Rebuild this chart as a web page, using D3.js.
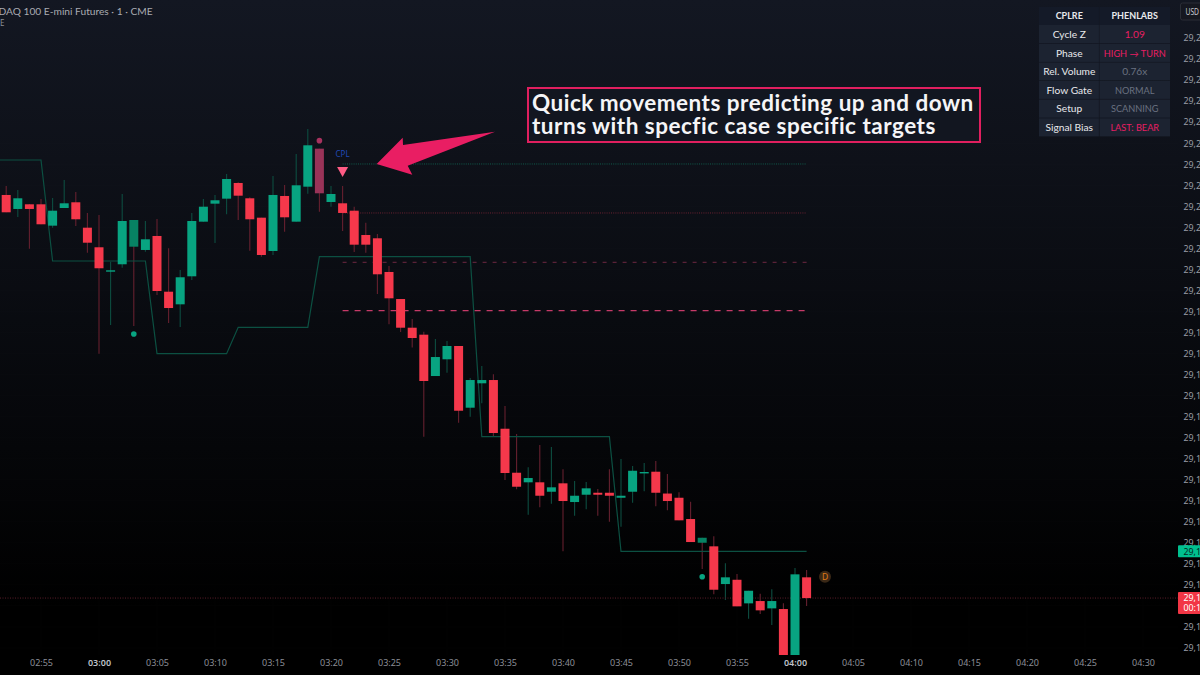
<!DOCTYPE html>
<html><head><meta charset="utf-8">
<script src="https://cdn.jsdelivr.net/npm/d3@7/dist/d3.min.js"></script>
<style>html,body{margin:0;padding:0;background:#000;overflow:hidden}svg{display:block}</style>
</head><body><svg id="c" width="1200" height="675"></svg>
<script>
// ---- data (minutes relative to 03:00) ----
const firstMinute=-8;
const opens=[29222.69,29219.36,29220.47,29220.47,29215.39,29219.59,29220.95,29214.91,29210.25,29204.45,29206.21,29210.39,29209.61,29212.94,29199.69,29196.69,29203.35,29216.34,29220.62,29221.81,29225.54,29221.90,29217.29,29209.37,29222.45,29216.34,29224.66,29233.70,29221.02,29220.71,29218.95,29213.17,29212.39,29204.38,29197.95,29191.13,29189.47,29179.64,29183.62,29186.78,29172.11,29177.91,29178.69,29167.11,29156.65,29154.37,29154.37,29152.13,29154.13,29149.68,29151.42,29151.89,29151.89,29150.70,29152.13,29156.58,29156.89,29151.70,29150.70,29145.64,29140.00,29139.15,29130.18,29131.20,29125.59,29126.14,29124.40,29124.24,29109.73,29131.78];
const highs=[29224.83,29223.87,29220.55,29221.73,29221.97,29226.25,29223.40,29218.41,29217.93,29206.82,29222.92,29216.74,29216.50,29216.98,29210.01,29204.85,29218.41,29221.73,29222.69,29227.68,29225.71,29222.14,29217.29,29227.20,29225.06,29232.44,29238.38,29233.70,29224.83,29224.83,29219.90,29216.10,29213.41,29205.80,29197.95,29193.20,29190.18,29188.44,29187.97,29186.78,29179.17,29182.02,29180.05,29172.51,29165.85,29157.93,29163.24,29162.76,29157.46,29154.68,29154.44,29152.77,29157.46,29159.91,29158.24,29158.96,29159.43,29156.34,29151.99,29149.75,29141.19,29141.53,29135.10,29132.56,29128.59,29127.88,29128.92,29125.59,29133.99,29133.51];
const lows=[29218.57,29217.45,29209.92,29215.72,29214.91,29219.59,29215.31,29208.97,29184.95,29191.77,29205.40,29191.53,29209.20,29198.91,29192.25,29191.30,29202.47,29216.34,29211.27,29218.10,29216.74,29209.44,29208.01,29208.42,29213.96,29216.34,29223.00,29218.71,29219.90,29214.13,29209.13,29208.97,29199.14,29191.94,29190.11,29186.42,29165.21,29179.64,29180.43,29168.54,29169.97,29173.15,29165.21,29154.91,29152.70,29146.66,29148.42,29149.28,29137.96,29146.42,29147.95,29146.42,29145.00,29143.81,29149.51,29152.23,29148.66,29147.73,29145.33,29140.17,29133.75,29127.73,29126.38,29124.88,29121.93,29123.05,29120.43,29108.50,29108.50,29124.95];
const closes=[29218.57,29221.90,29219.36,29215.72,29218.95,29220.71,29216.91,29211.34,29205.26,29204.78,29216.50,29216.74,29212.15,29199.86,29195.81,29203.12,29216.50,29219.90,29221.43,29226.49,29222.52,29216.91,29208.42,29222.69,29217.38,29224.99,29234.50,29223.09,29222.92,29218.41,29210.87,29210.87,29203.83,29198.12,29191.13,29188.68,29178.46,29184.16,29186.78,29171.39,29178.69,29178.69,29166.09,29156.58,29153.32,29155.39,29151.18,29153.18,29149.92,29151.18,29152.94,29151.42,29151.18,29151.18,29157.12,29156.82,29151.89,29149.92,29145.33,29140.17,29141.19,29128.83,29131.78,29124.88,29128.59,29123.93,29126.14,29109.73,29132.49,29126.85];
const darkBullMinutes=[3,52];
const fadedBearMinutes=[19];
const stepMinutes=[-9,-5,-4,4,5,11,12,18,19,32,33,44,45,61];
const stepPrices=[29231.01,29231.01,29206.99,29206.99,29184.95,29184.95,29191.23,29191.23,29208.01,29208.01,29165.21,29165.21,29137.96,29137.96];
const levelPrices=[29230.06,29218.41,29206.68,29195.17];
const levelStyles=["dotTeal","dotRed","dashDim","dashBright"];
const levelStart=21, levelEnd=61;
const lastPrice=29126.85, stepLast=29137.96;
const bullDotMinutes=[3,52], bullDotPrices=[29189.63,29131.92];
const bearDotMinutes=[19], bearDotPrices=[29235.60];
const signalMinute=21, signalPrice=29228.16;
const priceTicks=d3.range(0,30).map(i=>29260-5*i);
const hiddenPriceTicks=[29125];
const timeTicks=d3.range(-5,95,5);
const boldTimes=[0,60];
const tableHead=["CPLRE","PHENLABS"];
const tableKeys=["Cycle Z","Phase","Rel. Volume","Flow Gate","Setup","Signal Bias"];
const tableVals=["1.09","HIGH → TURN","0.76x","NORMAL","SCANNING","LAST: BEAR"];
const tableHot=[true,true,false,false,false,true];
const noteLines=["Quick movements predicting up and down","turns with specfic case specific targets"];

// ---- scales ----
const W=1200,H=675,paneR=1178,paneB=655;
const x=d3.scaleLinear().domain([0,60]).range([99,795]);
const y=d3.scaleLinear().domain([29200,29115]).range([290.4,647.9]);
const svg=d3.select("#c");
const defs=svg.append("defs");
const g=defs.append("linearGradient").attr("id","bg").attr("x1",0).attr("x2",0).attr("y1",0).attr("y2",1);
g.append("stop").attr("offset","0%").attr("stop-color","#131722");
g.append("stop").attr("offset","90%").attr("stop-color","#000000");
defs.append("clipPath").attr("id","pane").append("rect").attr("width",paneR).attr("height",paneB);
svg.append("rect").attr("width",W).attr("height",H).attr("fill","url(#bg)");

// faint grid
const grid=svg.append("g").attr("stroke","#ffffff").attr("stroke-opacity",0.012);
grid.selectAll(".v").data(timeTicks).join("line").attr("x1",d=>x(d)).attr("x2",d=>x(d)).attr("y1",0).attr("y2",paneB);
grid.selectAll(".h").data(priceTicks).join("line").attr("x1",0).attr("x2",paneR).attr("y1",d=>y(d)).attr("y2",d=>y(d));

const pane=svg.append("g").attr("clip-path","url(#pane)");

// candles
const candles=opens.map((o,i)=>({m:firstMinute+i,o,h:highs[i],l:lows[i],c:closes[i]}));
const wickRed="#66202f",wickGreen="#0d4d41",red="#f5384b",green="#08a481";
const wickCol=d=>(darkBullMinutes.includes(d.m)||d.c<d.o)?wickRed:wickGreen;
const bodyCol=d=>darkBullMinutes.includes(d.m)?"#078263":fadedBearMinutes.includes(d.m)?"#993358":d.c<d.o?red:green;
pane.selectAll("line.wick").data(candles).join("line").attr("class","wick")
  .attr("x1",d=>x(d.m)).attr("x2",d=>x(d.m)).attr("y1",d=>y(d.h)).attr("y2",d=>y(d.l))
  .attr("stroke",wickCol).attr("stroke-width",1.1);

// step line
pane.append("path").datum(stepMinutes.map((m,i)=>[m,stepPrices[i]]))
  .attr("fill","none").attr("stroke","#0c5042").attr("stroke-width",1.2)
  .attr("d",d3.line().x(d=>x(d[0])).y(d=>y(d[1])));

// levels
const levelStyle={dotTeal:["#0f5a4b","1 1.2",1],dotRed:["#6b2232","1 1.2",1],dashDim:["#6e2842","4 6",1],dashBright:["#c63a68","6 6",1.2]};
pane.selectAll("line.level").data(levelPrices).join("line").attr("class","level")
  .attr("x1",x(levelStart)).attr("x2",x(levelEnd)).attr("y1",d=>y(d)).attr("y2",d=>y(d))
  .attr("stroke",(d,i)=>levelStyle[levelStyles[i]][0])
  .attr("stroke-dasharray",(d,i)=>levelStyle[levelStyles[i]][1])
  .attr("stroke-width",(d,i)=>levelStyle[levelStyles[i]][2]);
pane.append("line").attr("x1",0).attr("x2",paneR).attr("y1",y(lastPrice)).attr("y2",y(lastPrice))
  .attr("stroke","#5a1c28").attr("stroke-dasharray","1 1.5");

// bodies
const bw=9;
pane.selectAll("rect.body").data(candles).join("rect").attr("class","body")
  .attr("x",d=>x(d.m)-bw/2).attr("width",bw)
  .attr("y",d=>y(Math.max(d.o,d.c)))
  .attr("height",d=>Math.max(1.4,Math.abs(y(d.o)-y(d.c))))
  .attr("fill",bodyCol);

// dots and signal
pane.selectAll("circle.bull").data(bullDotMinutes).join("circle").attr("class","bull")
  .attr("cx",d=>x(d)).attr("cy",(d,i)=>y(bullDotPrices[i])).attr("r",2.8).attr("fill","#08a481");
pane.selectAll("circle.bear").data(bearDotMinutes).join("circle").attr("class","bear")
  .attr("cx",d=>x(d)).attr("cy",(d,i)=>y(bearDotPrices[i])).attr("r",2.8).attr("fill","#a8325f");
const sx=x(signalMinute),sy=y(signalPrice);
pane.append("path").attr("d",d3.line()([[sx-5.5,sy-5],[sx+5.5,sy-5],[sx,sy+5]])+"Z").attr("fill","#ff5c85");
pane.append("text").attr("x",sx).attr("y",sy-15).attr("text-anchor","middle")
  .attr("font-family","'Noto Sans',sans-serif").attr("font-size",8).attr("fill","#2049b5").text("CPL");

// D badge
const dG=svg.append("g").attr("transform","translate(825,576.7)");
dG.append("circle").attr("r",6).attr("fill","#3a2816");
dG.append("text").attr("text-anchor","middle").attr("y",3).attr("font-family","'Noto Sans',sans-serif").attr("font-size",8.5).attr("fill","#e07b15").text("D");

// arrow annotation
svg.append("polygon").attr("points","376.7,164 402.7,137.7 403,145 495,131.7 407.7,165.7 412.3,174.7").attr("fill","#e91e63");

// note box
svg.append("rect").attr("x",528).attr("y",88).attr("width",452).attr("height",54).attr("fill","#121620").attr("stroke","#e01f5f").attr("stroke-width",2);
svg.selectAll("text.note").data(noteLines).join("text").attr("class","note").attr("x",532).attr("y",(d,i)=>111+i*22.5)
  .attr("font-family","Lato,sans-serif").attr("font-weight",700).attr("font-size",22.5).attr("letter-spacing",0.5)
  .style("font-variant-ligatures","none").attr("fill","#f5f5f7").text(d=>d);

// axes
const axFont="'Noto Sans',sans-serif";
const xAxis=svg.append("g").attr("transform","translate(0,657.5)").call(
  d3.axisBottom(x).tickValues(timeTicks).tickSize(0).tickPadding(0)
   .tickFormat(d=>{const t=180+d;return String(Math.floor(t/60)).padStart(2,"0")+":"+String(t%60).padStart(2,"0");}));
xAxis.select(".domain").remove();
xAxis.selectAll("text").attr("font-family",axFont).attr("font-size",9).attr("fill",d=>boldTimes.includes(d)?"#bfc1c8":"#8b8e97").attr("font-weight",d=>boldTimes.includes(d)?600:400).attr("dy","0.9em");

// the price scale is cut by the window edge: only the visible head of each label is written
const visiblePrice=p=>d3.format(",.2f")(p).slice(0,4);
const yAxis=svg.append("g").attr("transform","translate(1183.5,0)").call(
  d3.axisRight(y).tickValues(priceTicks.filter(p=>!hiddenPriceTicks.includes(p))).tickSize(0).tickPadding(0).tickFormat(visiblePrice));
yAxis.select(".domain").remove();
yAxis.selectAll("text").attr("font-family",axFont).attr("font-size",8.8).attr("fill","#9a9da5");

// price tags
function tag(top,h,fill,lines,col){
  svg.append("rect").attr("x",1178).attr("y",top).attr("width",30).attr("height",h).attr("rx",1).attr("fill",fill);
  lines.forEach(l=>svg.append("text").attr("x",1183.5).attr("y",l[0]).attr("font-family",axFont).attr("font-size",8.8).attr("fill",col).text(l[1]));
}
tag(y(stepLast)-6,12,"#00c08f",[[y(stepLast)+3.3,visiblePrice(stepLast)]],"#06281f");
tag(y(lastPrice)-6,22,"#f23645",[[y(lastPrice)+3.3,visiblePrice(lastPrice)],[y(lastPrice)+13,"00:1"]],"#ffffff");

// USD box
svg.append("rect").attr("x",1180.5).attr("y",3).attr("width",40).attr("height",17).attr("rx",2).attr("fill","#151720").attr("stroke","#2a2d36");
svg.append("text").attr("x",1185.5).attr("y",15).attr("font-family",axFont).attr("font-size",8).attr("textLength",13.5).attr("lengthAdjust","spacingAndGlyphs").attr("fill","#c8cad0").text("USD");

// legend
svg.append("text").attr("x",-1.5).attr("y",15).attr("font-family","Lato,sans-serif").attr("font-size",10.2).attr("fill","#a9abb2").text("DAQ 100 E-mini Futures · 1 · CME");
svg.append("text").attr("x",0).attr("y",26).attr("font-family",axFont).attr("font-size",8).attr("fill","#8b8e97").text("E");

// table
const tx=[1039,1099.5,1170],rowY=[7,25,43.7,62.5,81,99.5,118.3,137];
const tbl=svg.append("g");
const rows=[tableHead].concat(tableKeys.map((k,i)=>[k,tableVals[i]]));
rows.forEach((r,i)=>{
  [0,1].forEach(c=>{
    tbl.append("rect").attr("x",tx[c]).attr("y",rowY[i]).attr("width",tx[c+1]-tx[c]-(c==0?0.6:0)).attr("height",rowY[i+1]-rowY[i]-(i==0?0:0.6))
      .attr("fill",i==0?"#141a28":"#1c2331");
    const hot=i>0&&c==1&&tableHot[i-1];
    const caps=i>0&&c==1&&r[c]===r[c].toUpperCase()&&/[A-Z]{3}/.test(r[c]);
    tbl.append("text").attr("x",(tx[c]+tx[c+1])/2).attr("y",(rowY[i]+rowY[i+1])/2+3.4).attr("text-anchor","middle")
      .attr("font-family","Lato,sans-serif").attr("font-size",i==0?9:caps?9.2:10.2).attr("font-weight",i==0?700:400)
      .attr("fill",i==0||c==0?"#e8e9ec":hot?"#e91e63":"#6a7180").text(r[c]);
  });
});
</script>
</body></html>
